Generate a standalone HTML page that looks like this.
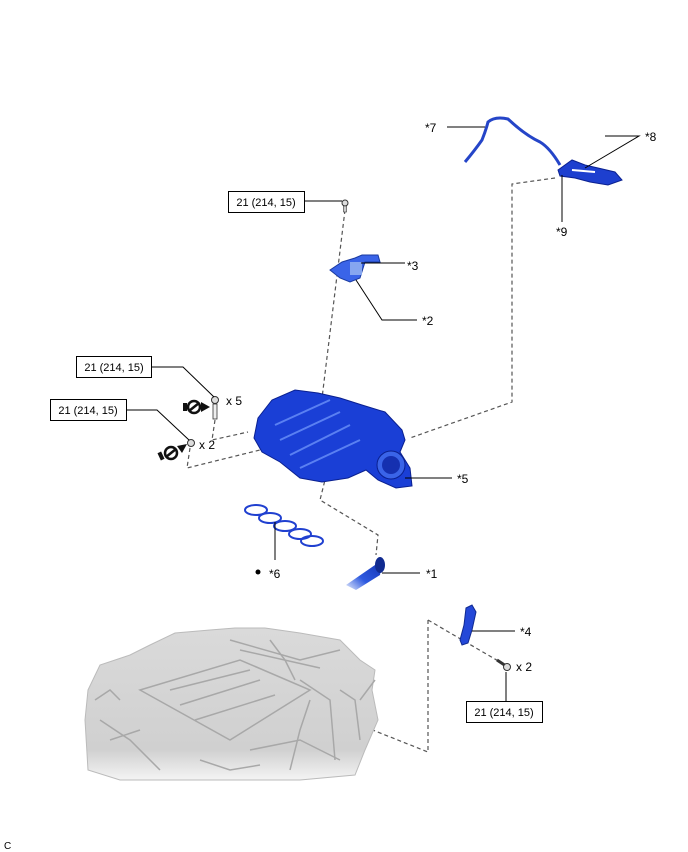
<!DOCTYPE html>
<html><head><meta charset="utf-8"><style>
html,body{margin:0;padding:0;background:#fff;}
svg{display:block;font-family:"Liberation Sans",sans-serif;}
</style></head><body>
<svg width="688" height="852" viewBox="0 0 688 852" xmlns="http://www.w3.org/2000/svg">
<defs>
<linearGradient id="eng" x1="0" y1="0" x2="0" y2="1"><stop offset="0" stop-color="#dadada"/><stop offset="0.8" stop-color="#d0d0d0"/><stop offset="1" stop-color="#f4f4f4"/></linearGradient>
<linearGradient id="hose" x1="1" y1="0" x2="0" y2="1"><stop offset="0" stop-color="#1030b0"/><stop offset="0.6" stop-color="#2e5ae0"/><stop offset="1" stop-color="#e8eefc"/></linearGradient>
</defs>
<g fill="none" stroke="#555" stroke-width="1.2" stroke-dasharray="4,3">
<path d="M345 210 L312 480"/>
<path d="M555 178 L512 184 L512 402 L410 438"/>
<path d="M340 435 L325 480 L320 500 L378 535 L376 555"/>
<path d="M215 420 L212 440 L248 432"/>
<path d="M190 448 L187 468 L268 448 L270 440"/>
<path d="M428 620 L428 752 L360 725"/>
<path d="M428 620 L500 662"/>
</g>
<!-- engine -->
<path d="M88 690 L100 665 L130 655 L150 645 L175 633 L210 630 L235 628 L265 628 L300 633 L340 640 L360 660 L375 670 L372 690 L378 720 L365 750 L355 775 L300 780 L200 780 L120 780 L88 770 L85 720 Z" fill="url(#eng)" stroke="#bbb" stroke-width="1"/>
<g stroke="#a8a8a8" fill="none" stroke-width="1.5">
<path d="M140 690 L240 660 L310 690 L230 740 Z"/><path d="M170 690 L250 670"/><path d="M180 705 L260 680"/><path d="M195 720 L275 695"/>
<path d="M230 640 L300 660 L340 650"/><path d="M240 650 L320 668"/><path d="M300 680 L330 700 L335 760"/><path d="M100 720 L130 740 L160 770"/>
<path d="M360 700 L375 680"/><path d="M250 750 L300 740 L340 760"/><path d="M310 700 L300 730 L290 770"/>
<path d="M95 700 L110 690 L120 700"/><path d="M200 760 L230 770 L260 765"/><path d="M340 690 L355 700 L360 740"/>
<path d="M270 640 L285 660 L295 680"/><path d="M110 740 L140 730"/>
</g>
<!-- manifold -->
<path d="M258 418 L272 400 L295 390 L318 393 L340 398 L362 405 L385 412 L402 430 L405 440 L400 452 L410 468 L412 486 L396 488 L378 480 L366 470 L348 478 L322 482 L300 478 L280 462 L262 452 L254 438 Z" fill="#1a3fd6" stroke="#0a2090" stroke-width="1"/>
<g stroke="#5a80f2" fill="none" stroke-width="2">
<path d="M275 425 L330 400"/><path d="M280 440 L340 412"/><path d="M290 455 L350 425"/><path d="M300 468 L360 440"/>
</g>
<circle cx="391" cy="465" r="14" fill="#3a64e8" stroke="#0a2090"/>
<circle cx="391" cy="465" r="9" fill="#1530b0"/>
<!-- gasket -->
<g fill="none" stroke="#2040d0" stroke-width="2">
<ellipse cx="256" cy="510" rx="11" ry="5"/><ellipse cx="270" cy="518" rx="11" ry="5"/><ellipse cx="285" cy="526" rx="11" ry="5"/><ellipse cx="300" cy="534" rx="11" ry="5"/><ellipse cx="312" cy="541" rx="11" ry="5"/>
</g>
<!-- hose *1 -->
<path d="M346 585 L375 565 L378 558 L382 562 L380 575 L356 590 Z" fill="url(#hose)"/>
<ellipse cx="380" cy="565" rx="5" ry="8" fill="#102a90"/>
<!-- *4 bracket -->
<path d="M466 608 L472 605 L476 612 L472 630 L468 643 L462 645 L460 640 L464 625 Z" fill="#2448d8" stroke="#102a90" stroke-width="1"/>
<!-- bolt x2 -->
<path d="M497 660 L506 666" stroke="#333" stroke-width="3"/><circle cx="507" cy="667" r="3.5" fill="#ddd" stroke="#333"/>
<!-- *7 pipe -->
<path d="M465 162 Q475 150 482 140 Q486 130 488 122 Q495 116 508 119 Q525 135 540 142 Q550 148 560 165" fill="none" stroke="#2545c8" stroke-width="3"/>
<!-- *8/*9 part -->
<path d="M558 170 L572 160 L585 165 L598 168 L615 172 L622 180 L608 185 L590 182 L575 178 L560 176 Z" fill="#1d3fcf" stroke="#0a2090"/>
<path d="M572 170 L595 172" stroke="#fff" stroke-width="2"/>
<!-- *2/*3 part -->
<path d="M330 270 L342 262 L355 258 L362 255 L378 255 L380 262 L365 262 L360 278 L350 282 L340 278 Z" fill="#3a64e8" stroke="#1a3aa0"/>
<path d="M350 262 L362 262 L362 275 L350 275 Z" fill="#86a6f0"/>
<!-- bolts -->
<circle cx="345" cy="203" r="3" fill="#ddd" stroke="#333"/><rect x="343.5" y="206" width="3" height="6" fill="#ccc" stroke="#333" stroke-width="0.6"/>
<circle cx="215" cy="400" r="3.5" fill="#ddd" stroke="#333"/><rect x="213" y="404" width="4" height="15" fill="#eee" stroke="#333" stroke-width="0.8"/>
<circle cx="191" cy="443" r="3.5" fill="#ddd" stroke="#333"/>
<!-- no-reuse icons -->
<g>
<rect x="183" y="403" width="4" height="8" fill="#111"/><circle cx="194" cy="407" r="6" fill="#fff" stroke="#111" stroke-width="2.5"/><path d="M189 411 L199 403" stroke="#111" stroke-width="2.5"/><path d="M201 402 L210 407 L201 412 Z" fill="#111"/>
</g>
<g>
<rect x="159" y="452" width="4" height="8" fill="#111" transform="rotate(-25 161 456)"/><circle cx="171" cy="453" r="6" fill="#fff" stroke="#111" stroke-width="2.5"/><path d="M166 457 L176 449" stroke="#111" stroke-width="2.5"/><path d="M177 446 L187 444 L182 453 Z" fill="#111"/>
</g>
<!-- leader lines -->
<g stroke="#000" stroke-width="1" fill="none">
<path d="M304 201 L342 201"/>
<path d="M151 367 L183 367 L214 397"/>
<path d="M126 410 L157 410 L189 440"/>
<path d="M447 127 L485 127"/>
<path d="M605 136 L639 136 L585 168"/>
<path d="M562 175 L562 222"/>
<path d="M361 263 L405 263"/>
<path d="M356 280 L382 320 L417 320"/>
<path d="M405 478 L452 478"/>
<path d="M275 522 L275 560"/>
<path d="M382 573 L420 573"/>
<path d="M472 631 L515 631"/>
<path d="M506 672 L506 703"/>
</g>
<g fill="#fff" stroke="#000" stroke-width="1">
<rect x="228.5" y="191.5" width="76" height="21"/>
<rect x="76.5" y="356.5" width="75" height="21"/>
<rect x="50.5" y="399.5" width="76" height="21"/>
<rect x="466.5" y="701.5" width="76" height="21"/>
</g>
<g font-size="11" fill="#000" text-anchor="middle">
<text x="266" y="206">21 (214, 15)</text>
<text x="114" y="371">21 (214, 15)</text>
<text x="88" y="414">21 (214, 15)</text>
<text x="504" y="716">21 (214, 15)</text>
</g>
<g font-size="12" fill="#000">
<text x="425" y="132">*7</text>
<text x="645" y="141">*8</text>
<text x="556" y="236">*9</text>
<text x="407" y="270">*3</text>
<text x="422" y="325">*2</text>
<text x="226" y="405">x 5</text>
<text x="199" y="449">x 2</text>
<text x="457" y="483">*5</text>
<text x="269" y="578">*6</text>
<text x="426" y="578">*1</text>
<text x="520" y="636">*4</text>
<text x="516" y="671">x 2</text>
<text x="4" y="849" font-size="10">C</text>
</g>
<circle cx="258" cy="572" r="2.5" fill="#000"/>
</svg>
</body></html>
